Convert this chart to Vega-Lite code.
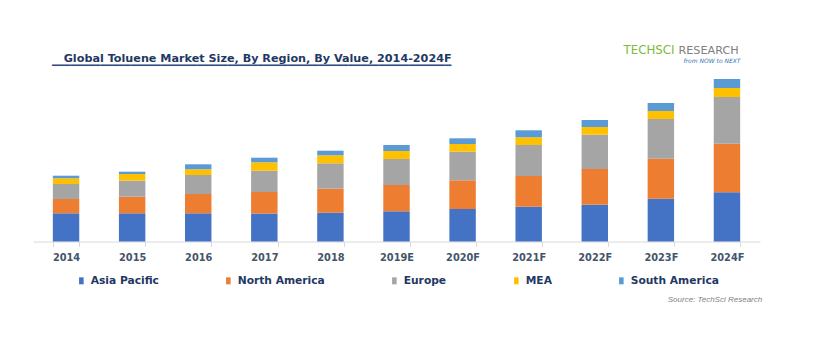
{
  "$schema": "https://vega.github.io/schema/vega-lite/v6.json",
  "width": 727,
  "height": 171.5,
  "autosize": {"type": "none"},
  "padding": {"left": 33, "top": 70, "right": 60, "bottom": 108.5},
  "background": "white",
  "title": {
    "text": "\u200b\u00a0\u00a0\u00a0Global Toluene Market Size, By Region, By Value, 2014-2024F",
    "subtitle": "▔▔▔▔▔▔▔▔▔▔▔▔▔▔▔▔▔▔▔▔▔▔▔▔▔▔▔▔▔▔▔▔▔▔▔▔▔▔▔▔▔▔▔▔▔▔▔▔▔▔▔▔▔▔▔▔▔▔▔▔▔▔▔▔▔▔",
    "anchor": "start",
    "frame": "group",
    "dx": 19,
    "font": "DejaVu Sans",
    "fontSize": 11.2,
    "fontWeight": "bold",
    "color": "#1F3864",
    "subtitleFont": "DejaVu Sans Mono",
    "subtitleFontSize": 10.05,
    "subtitleColor": "#2E4A86",
    "subtitlePadding": 2,
    "offset": -31.75
  },
  "config": {"view": {"stroke": null}},
  "data": {
    "values": [
      {"year": "2014", "region": "Asia Pacific", "value": 28.2},
      {"year": "2014", "region": "North America", "value": 14.3},
      {"year": "2014", "region": "Europe", "value": 15.0},
      {"year": "2014", "region": "MEA", "value": 5.7},
      {"year": "2014", "region": "South America", "value": 2.6},
      {"year": "2015", "region": "Asia Pacific", "value": 28.2},
      {"year": "2015", "region": "North America", "value": 16.6},
      {"year": "2015", "region": "Europe", "value": 16.0},
      {"year": "2015", "region": "MEA", "value": 6.7},
      {"year": "2015", "region": "South America", "value": 2.3},
      {"year": "2016", "region": "Asia Pacific", "value": 28.2},
      {"year": "2016", "region": "North America", "value": 19.3},
      {"year": "2016", "region": "Europe", "value": 19.0},
      {"year": "2016", "region": "MEA", "value": 5.7},
      {"year": "2016", "region": "South America", "value": 5.0},
      {"year": "2017", "region": "Asia Pacific", "value": 28.0},
      {"year": "2017", "region": "North America", "value": 21.5},
      {"year": "2017", "region": "Europe", "value": 21.3},
      {"year": "2017", "region": "MEA", "value": 8.4},
      {"year": "2017", "region": "South America", "value": 4.6},
      {"year": "2018", "region": "Asia Pacific", "value": 28.8},
      {"year": "2018", "region": "North America", "value": 24.0},
      {"year": "2018", "region": "Europe", "value": 25.4},
      {"year": "2018", "region": "MEA", "value": 8.0},
      {"year": "2018", "region": "South America", "value": 4.6},
      {"year": "2019E", "region": "Asia Pacific", "value": 30.2},
      {"year": "2019E", "region": "North America", "value": 26.3},
      {"year": "2019E", "region": "Europe", "value": 26.0},
      {"year": "2019E", "region": "MEA", "value": 8.0},
      {"year": "2019E", "region": "South America", "value": 6.0},
      {"year": "2020F", "region": "Asia Pacific", "value": 32.5},
      {"year": "2020F", "region": "North America", "value": 28.7},
      {"year": "2020F", "region": "Europe", "value": 28.6},
      {"year": "2020F", "region": "MEA", "value": 7.7},
      {"year": "2020F", "region": "South America", "value": 5.7},
      {"year": "2021F", "region": "Asia Pacific", "value": 34.8},
      {"year": "2021F", "region": "North America", "value": 30.7},
      {"year": "2021F", "region": "Europe", "value": 31.0},
      {"year": "2021F", "region": "MEA", "value": 7.7},
      {"year": "2021F", "region": "South America", "value": 7.0},
      {"year": "2022F", "region": "Asia Pacific", "value": 36.8},
      {"year": "2022F", "region": "North America", "value": 35.7},
      {"year": "2022F", "region": "Europe", "value": 34.3},
      {"year": "2022F", "region": "MEA", "value": 7.7},
      {"year": "2022F", "region": "South America", "value": 7.0},
      {"year": "2023F", "region": "Asia Pacific", "value": 42.8},
      {"year": "2023F", "region": "North America", "value": 40.0},
      {"year": "2023F", "region": "Europe", "value": 39.7},
      {"year": "2023F", "region": "MEA", "value": 8.0},
      {"year": "2023F", "region": "South America", "value": 8.0},
      {"year": "2024F", "region": "Asia Pacific", "value": 49.2},
      {"year": "2024F", "region": "North America", "value": 48.6},
      {"year": "2024F", "region": "Europe", "value": 46.7},
      {"year": "2024F", "region": "MEA", "value": 9.0},
      {"year": "2024F", "region": "South America", "value": 9.0}
    ]
  },
  "layer": [
    {
      "mark": {"type": "bar"},
      "encoding": {
        "x": {
          "field": "year",
          "type": "nominal",
          "sort": null,
          "scale": {"paddingInner": 0.6, "paddingOuter": 0.3},
          "axis": {
            "orient": "bottom",
            "labelAngle": 0,
            "labelFont": "DejaVu Sans",
            "labelFontSize": 9.8,
            "labelFontWeight": "bold",
            "labelColor": "#44546A",
            "domainColor": "#D9D9D9",
            "tickColor": "#D9D9D9",
            "tickSize": 5,
            "tickBand": "extent",
            "labelPadding": 6,
            "title": "Source: TechSci Research",
            "titleFont": "Liberation Sans",
            "titleFontStyle": "italic",
            "titleFontWeight": "normal",
            "titleFontSize": 8,
            "titleColor": "#7F7F7F",
            "titleX": 728.7,
            "titleY": 59.5,
            "titleAlign": "right",
            "titleBaseline": "alphabetic"
          }
        },
        "y": {
          "field": "value",
          "type": "quantitative",
          "stack": "zero",
          "scale": {"domain": [0, 171.5]},
          "axis": {
            "orient": "left",
            "domain": false,
            "ticks": false,
            "labels": false,
            "grid": false,
            "title": "TECHSCI",
            "titleAngle": 0,
            "titleX": 590,
            "titleY": -16.5,
            "titleAlign": "left",
            "titleBaseline": "alphabetic",
            "titleFont": "DejaVu Sans",
            "titleFontSize": 11.8,
            "titleFontWeight": "normal",
            "titleColor": "#7DBA3C"
          }
        },
        "order": {"field": "year", "type": "nominal"},
        "color": {
          "field": "region",
          "type": "nominal",
          "sort": null,
          "scale": {
            "domain": ["Asia Pacific", "North America", "Europe", "MEA", "South America"],
            "range": ["#4472C4", "#ED7D31", "#A5A5A5", "#FFC000", "#5B9BD5"]
          },
          "legend": {
            "orient": "none",
            "legendX": 43,
            "legendY": 205,
            "direction": "horizontal",
            "title": null,
            "values": ["Asia Pacific", "North America", "Europe", "MEA", "South America"],
            "symbolType": "M-0.65,-1H0.65V1H-0.65Z",
            "symbolSize": 49,
            "symbolStrokeWidth": 0,
            "labelFont": "DejaVu Sans",
            "labelFontSize": 10.7,
            "labelFontWeight": "bold",
            "labelColor": "#1F3864",
            "labelOffset": 4,
            "columnPadding": 64,
            "padding": 0
          }
        }
      }
    },
    {
      "mark": {"type": "rule", "opacity": 0},
      "encoding": {
        "x": {
          "field": "year",
          "type": "nominal",
          "sort": null,
          "axis": {
            "orient": "top",
            "domain": false,
            "ticks": false,
            "labels": false,
            "grid": false,
            "title": "from NOW to NEXT",
            "titleX": 650,
            "titleY": -8,
            "titleAlign": "left",
            "titleBaseline": "alphabetic",
            "titleFont": "DejaVu Sans",
            "titleFontStyle": "italic",
            "titleFontWeight": "normal",
            "titleFontSize": 6,
            "titleColor": "#2E75B6"
          }
        },
        "y": {
          "field": "value",
          "type": "quantitative",
          "scale": {"domain": [0, 171.5]},
          "axis": {
            "orient": "right",
            "domain": false,
            "ticks": false,
            "labels": false,
            "grid": false,
            "title": "RESEARCH",
            "titleAngle": 0,
            "titleX": -82,
            "titleY": -16.5,
            "titleAlign": "left",
            "titleBaseline": "alphabetic",
            "titleFont": "DejaVu Sans",
            "titleFontSize": 11.2,
            "titleFontWeight": "normal",
            "titleColor": "#808080"
          }
        }
      }
    }
  ],
  "resolve": {"axis": {"x": "independent", "y": "independent"}}
}
